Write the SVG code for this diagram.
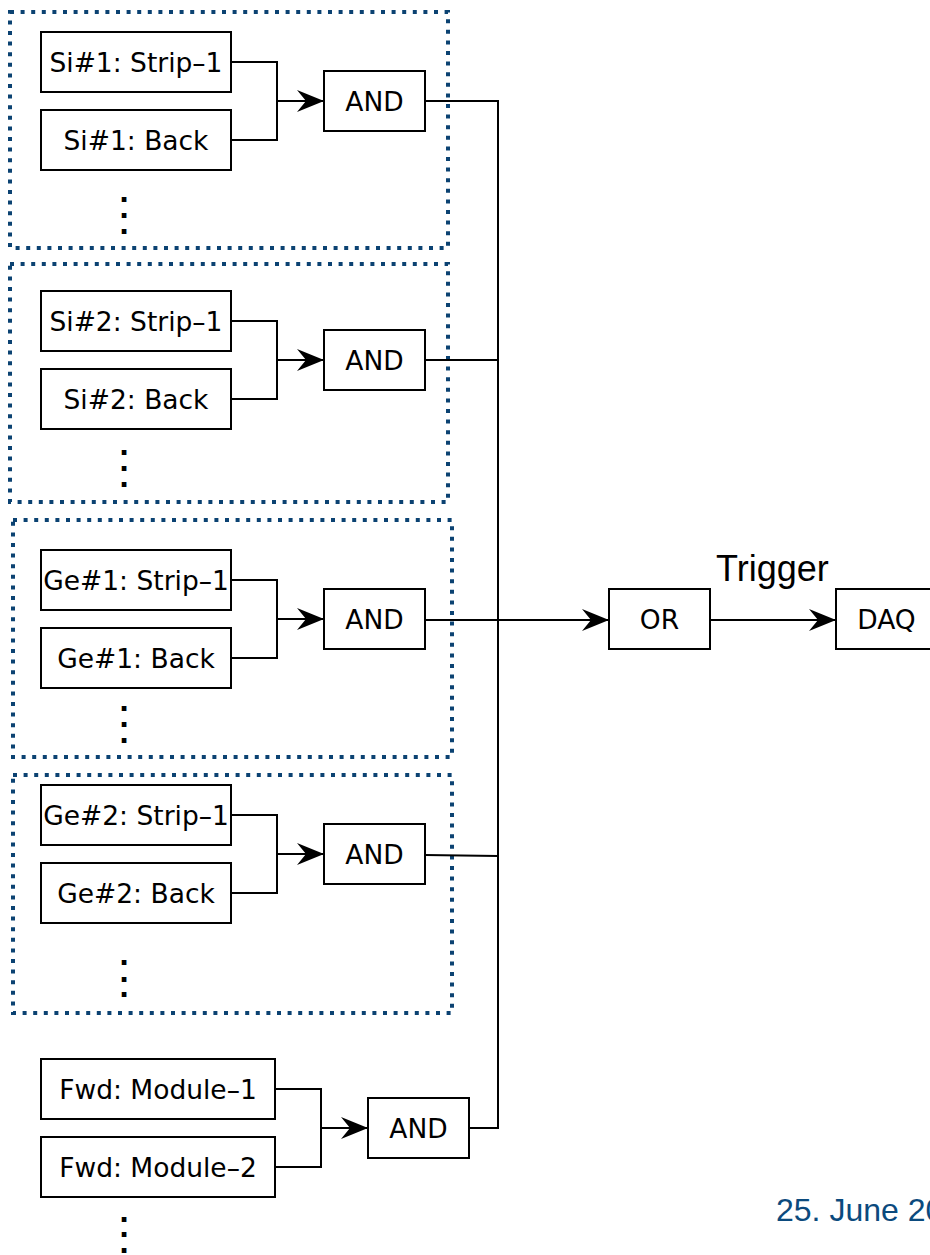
<svg xmlns="http://www.w3.org/2000/svg" width="930" height="1255" viewBox="0 0 930 1255">
  <style>
    .grp { fill: none; stroke: #0b4272; stroke-width: 4; stroke-dasharray: 4 6.6; }
    .box { fill: #ffffff; stroke: #000000; stroke-width: 2; }
    .lbl { font-family: "DejaVu Sans", Verdana, sans-serif; font-size: 26.5px; fill: #000000; text-anchor: middle; }
    .dots { font-family: "Liberation Sans", Arial, sans-serif; font-weight: bold; font-size: 33px; fill: #000000; text-anchor: middle; }
    .wire { fill: none; stroke: #000000; stroke-width: 2; }
    .arrow { fill: none; stroke: #000000; stroke-width: 2; marker-end: url(#head); }
  </style>
  <defs>
    <marker id="head" markerUnits="userSpaceOnUse" markerWidth="30" markerHeight="26" viewBox="-28 -13 30 26" refX="0" refY="0" orient="auto">
      <path d="M0,0 L-27,-11 L-18,0 L-27,11 Z" fill="#000000"/>
    </marker>
  </defs>
  <rect width="930" height="1255" fill="#ffffff"/>

  <!-- detector groups (dotted frames) -->
  <rect class="grp" x="10" y="12" width="438" height="236"/>
  <rect class="grp" x="10" y="264" width="438" height="238"/>
  <rect class="grp" x="13" y="520" width="439" height="237"/>
  <rect class="grp" x="13" y="775" width="439" height="238"/>

  <!-- connectors -->
  <g id="connectors">
    <!-- Si#1 -->
    <path class="wire" d="M231,62 H277 V140 H231"/>
    <path class="arrow" d="M277,101 H324"/>
    <!-- Si#2 -->
    <path class="wire" d="M231,321 H277 V399 H231"/>
    <path class="arrow" d="M277,360 H324"/>
    <!-- Ge#1 -->
    <path class="wire" d="M231,580 H277 V658 H231"/>
    <path class="arrow" d="M277,619 H324"/>
    <!-- Ge#2 -->
    <path class="wire" d="M231,815 H277 V893 H231"/>
    <path class="arrow" d="M277,854 H324"/>
    <!-- Fwd -->
    <path class="wire" d="M275,1089 H321 V1167 H275"/>
    <path class="arrow" d="M321,1128 H368"/>
    <!-- AND outputs into the common bus -->
    <path class="wire" d="M425,101 H498 V1128 H469"/>
    <path class="wire" d="M425,360 H498"/>
    <path class="wire" d="M425,855 L498,856"/>
    <path class="arrow" d="M425,620 H609"/>
    <!-- OR to DAQ -->
    <path class="arrow" d="M710,620 H836"/>
  </g>

  <!-- Si#1 -->
  <g id="si1-strip"><rect class="box" x="41" y="32" width="190" height="60"/><text class="lbl" x="136" y="71.5">Si#1: Strip–1</text></g>
  <g id="si1-back"><rect class="box" x="41" y="110" width="190" height="60"/><text class="lbl" x="136" y="149.5">Si#1: Back</text></g>
  <g id="si1-and"><rect class="box" x="324" y="71" width="101" height="60"/><text class="lbl" x="374.5" y="110.5">AND</text></g>
  <text class="dots" x="124"><tspan x="124" y="202">.</tspan><tspan x="124" y="218">.</tspan><tspan x="124" y="234">.</tspan></text>

  <!-- Si#2 -->
  <g id="si2-strip"><rect class="box" x="41" y="291" width="190" height="60"/><text class="lbl" x="136" y="330.5">Si#2: Strip–1</text></g>
  <g id="si2-back"><rect class="box" x="41" y="369" width="190" height="60"/><text class="lbl" x="136" y="408.5">Si#2: Back</text></g>
  <g id="si2-and"><rect class="box" x="324" y="330" width="101" height="60"/><text class="lbl" x="374.5" y="369.5">AND</text></g>
  <text class="dots" x="124"><tspan x="124" y="455">.</tspan><tspan x="124" y="471">.</tspan><tspan x="124" y="487">.</tspan></text>

  <!-- Ge#1 -->
  <g id="ge1-strip"><rect class="box" x="41" y="550" width="190" height="60"/><text class="lbl" x="136" y="589.5">Ge#1: Strip–1</text></g>
  <g id="ge1-back"><rect class="box" x="41" y="628" width="190" height="60"/><text class="lbl" x="136" y="667.5">Ge#1: Back</text></g>
  <g id="ge1-and"><rect class="box" x="324" y="589" width="101" height="60"/><text class="lbl" x="374.5" y="628.5">AND</text></g>
  <text class="dots" x="124"><tspan x="124" y="711">.</tspan><tspan x="124" y="727">.</tspan><tspan x="124" y="743">.</tspan></text>

  <!-- Ge#2 -->
  <g id="ge2-strip"><rect class="box" x="41" y="785" width="190" height="60"/><text class="lbl" x="136" y="824.5">Ge#2: Strip–1</text></g>
  <g id="ge2-back"><rect class="box" x="41" y="863" width="190" height="60"/><text class="lbl" x="136" y="902.5">Ge#2: Back</text></g>
  <g id="ge2-and"><rect class="box" x="324" y="824" width="101" height="60"/><text class="lbl" x="374.5" y="863.5">AND</text></g>
  <text class="dots" x="124"><tspan x="124" y="965">.</tspan><tspan x="124" y="982">.</tspan><tspan x="124" y="997">.</tspan></text>

  <!-- Forward modules -->
  <g id="fwd-mod1"><rect class="box" x="41" y="1059" width="234" height="60"/><text class="lbl" x="158" y="1098.5">Fwd: Module–1</text></g>
  <g id="fwd-mod2"><rect class="box" x="41" y="1137" width="234" height="60"/><text class="lbl" x="158" y="1176.5">Fwd: Module–2</text></g>
  <g id="fwd-and"><rect class="box" x="368" y="1098" width="101" height="60"/><text class="lbl" x="418.5" y="1137.5">AND</text></g>
  <text class="dots" x="124"><tspan x="124" y="1222">.</tspan><tspan x="124" y="1237">.</tspan><tspan x="124" y="1253">.</tspan></text>

  <!-- trigger logic -->
  <g id="or"><rect class="box" x="609" y="589" width="101" height="60"/><text class="lbl" x="659.5" y="628.5">OR</text></g>
  <g id="daq"><rect class="box" x="836" y="589" width="101" height="60"/><text class="lbl" x="886.5" y="628.5">DAQ</text></g>
  <text x="716" y="581" font-family="'Liberation Sans', Arial, sans-serif" font-size="36" fill="#000000">Trigger</text>

  <text x="776" y="1221" font-family="'Liberation Sans', Arial, sans-serif" font-size="32" fill="#0b4a7d">25. June 20</text>
</svg>
